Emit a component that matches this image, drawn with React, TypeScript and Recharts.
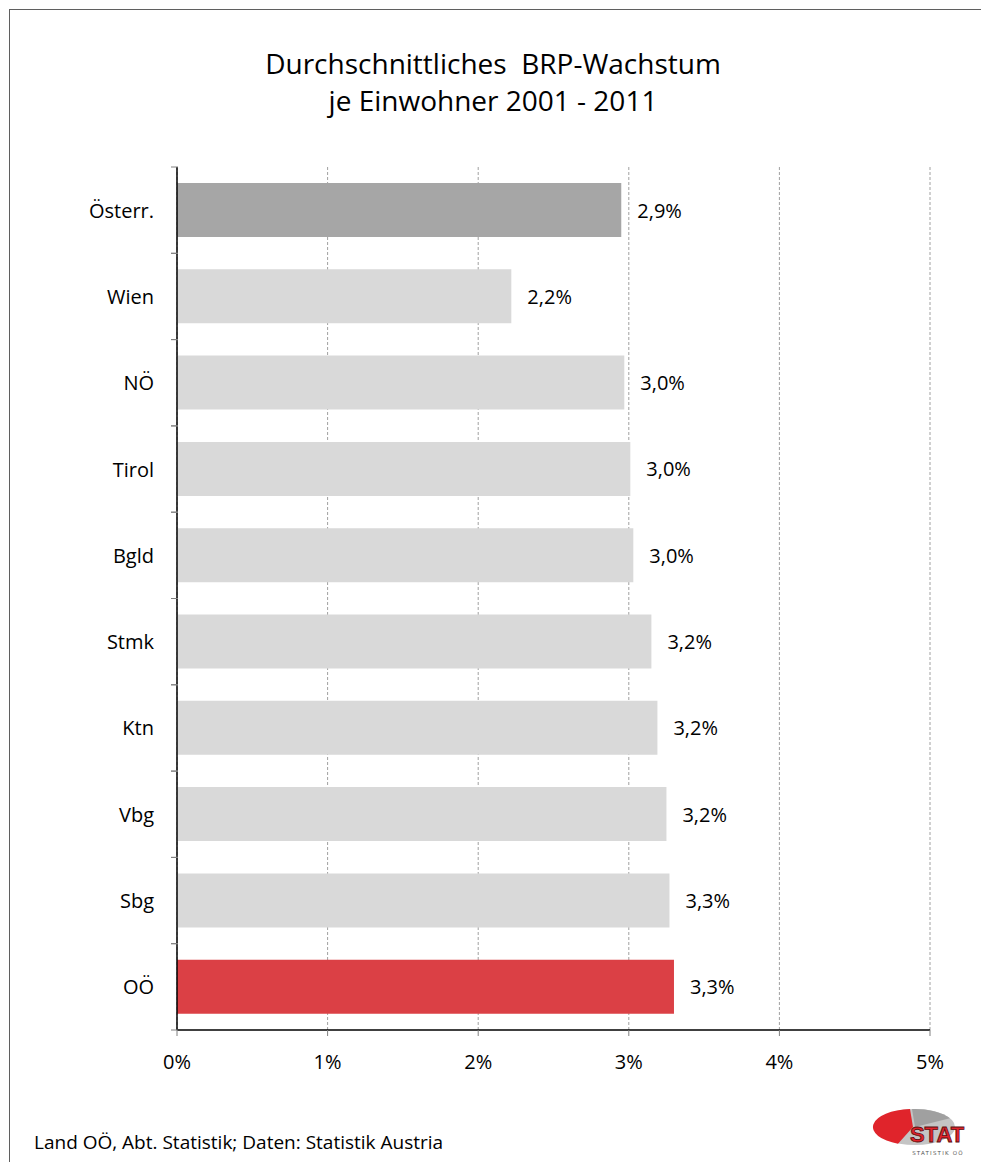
import React from "react";
import {
  BarChart,
  Bar,
  XAxis,
  YAxis,
  CartesianGrid,
  Cell,
  LabelList,
} from "recharts";

const categories = ["Österr.", "Wien", "NÖ", "Tirol", "Bgld", "Stmk", "Ktn", "Vbg", "Sbg", "OÖ"];
const growthValues = [2.95, 2.22, 2.97, 3.01, 3.03, 3.15, 3.19, 3.25, 3.27, 3.3];
const valueLabels = ["2,9%", "2,2%", "3,0%", "3,0%", "3,0%", "3,2%", "3,2%", "3,2%", "3,3%", "3,3%"];
const xTicks = [0, 1, 2, 3, 4, 5];
const titleLines = ["Durchschnittliches  BRP-Wachstum", "je Einwohner 2001 - 2011"];
const sourceText = "Land OÖ, Abt. Statistik; Daten: Statistik Austria";

const FONT = "'Open Sans', 'Noto Sans', sans-serif";

const data = categories.map((c, i) => ({
  name: c,
  value: growthValues[i],
  label: valueLabels[i],
}));

const barColor = (name: string) =>
  name === "OÖ" ? "#db4045" : name === "Österr." ? "#a6a6a6" : "#d9d9d9";

const YTick = (props: any) => {
  const { x, y, payload } = props;
  const half = payload.offset || 0;
  return (
    <g>
      <line x1={x + 2} x2={x + 9} y1={y - half} y2={y - half} stroke="#808080" strokeWidth={1} />
      <line x1={x + 2} x2={x + 9} y1={y + half} y2={y + half} stroke="#808080" strokeWidth={1} />
      <text
        x={x - 15}
        y={y}
        textAnchor="end"
        dominantBaseline="central"
        fontFamily={FONT}
        fontSize={20}
        fill="#000"
      >
        {payload.value}
      </text>
    </g>
  );
};

const XTick = (props: any) => {
  const { x, y, payload } = props;
  return (
    <g>
      <line x1={x} x2={x} y1={y - 8} y2={y - 2} stroke="#808080" strokeWidth={1} />
      <text
        x={x}
        y={y + 31}
        textAnchor="middle"
        fontFamily={FONT}
        fontSize={20}
        fill="#000"
      >
        {payload.value}%
      </text>
    </g>
  );
};

const ValueLabel = (props: any) => {
  const { x, y, width, height, value } = props;
  return (
    <text
      x={x + width + 16}
      y={y + height / 2}
      dominantBaseline="central"
      fontFamily={FONT}
      fontSize={20}
      fill="#000"
    >
      {value}
    </text>
  );
};

const Logo = () => (
  <svg width={100} height={60} style={{ position: "absolute", left: 870, top: 1102 }}>
    <ellipse cx={45} cy={25} rx={40} ry={18} fill="#c4c4c4" />
    <path d="M45 25 L42 7.05 A40 18 0 0 1 80 16.3 Z" fill="#a0a0a0" />
    <path d="M43 25 L40 7.05 A40 18 0 0 0 28 41.7 Z" fill="#e0242b" />
    <text
      x={67}
      y={40}
      textAnchor="middle"
      fontFamily="'Liberation Sans', Arial, sans-serif"
      fontWeight="bold"
      fontSize={22}
      fill="#e0242b"
      stroke="#5a1010"
      strokeWidth={0.8}
    >
      STAT
    </text>
    <text
      x={68}
      y={53}
      textAnchor="middle"
      fontFamily="'DejaVu Sans', sans-serif"
      fontSize={5.5}
      letterSpacing={1.2}
      fill="#555"
    >
      STATISTIK OÖ
    </text>
  </svg>
);

export default function App() {
  return (
    <div
      style={{
        position: "absolute",
        left: 0,
        top: 0,
        width: 981,
        height: 1162,
        overflow: "hidden",
        background: "#fff",
      }}
    >
      <div
        style={{
          position: "absolute",
          left: 9,
          top: 9,
          width: 1000,
          height: 1200,
          border: "1.5px solid #5f5f5f",
          boxSizing: "border-box",
        }}
      />
      <div
        style={{
          position: "absolute",
          left: 0,
          top: 45,
          width: 986,
          textAlign: "center",
          fontFamily: FONT,
          fontSize: 28,
          lineHeight: "37px",
          color: "#000",
          whiteSpace: "pre",
        }}
      >
        {titleLines.map((t) => (
          <div key={t}>{t}</div>
        ))}
      </div>
      <div style={{ position: "absolute", left: 0, top: 0 }}>
        <BarChart
          width={981}
          height={1162}
          data={data}
          layout="vertical"
          margin={{ top: 167, right: 51, bottom: 92, left: 17 }}
          barSize={54}
        >
          <CartesianGrid
            horizontal={false}
            vertical={true}
            stroke="#a0a0a0"
            strokeDasharray="3 2"
          />
          <XAxis
            type="number"
            domain={[0, 5]}
            ticks={xTicks}
            height={40}
            axisLine={{ stroke: "#000", strokeWidth: 1.5 }}
            tickLine={false}
            tick={<XTick />}
            interval={0}
          />
          <YAxis
            type="category"
            dataKey="name"
            width={160}
            axisLine={{ stroke: "#000", strokeWidth: 1.5 }}
            tickLine={false}
            tick={<YTick />}
            interval={0}
          />
          <Bar dataKey="value" isAnimationActive={false}>
            {data.map((d) => (
              <Cell key={d.name} fill={barColor(d.name)} />
            ))}
            <LabelList dataKey="label" content={<ValueLabel />} />
          </Bar>
        </BarChart>
      </div>
      <div
        style={{
          position: "absolute",
          left: 34,
          top: 1129,
          fontFamily: FONT,
          fontSize: 19,
          lineHeight: "26px",
          color: "#000",
          whiteSpace: "pre",
        }}
      >
        {sourceText}
      </div>
      <Logo />
    </div>
  );
}
